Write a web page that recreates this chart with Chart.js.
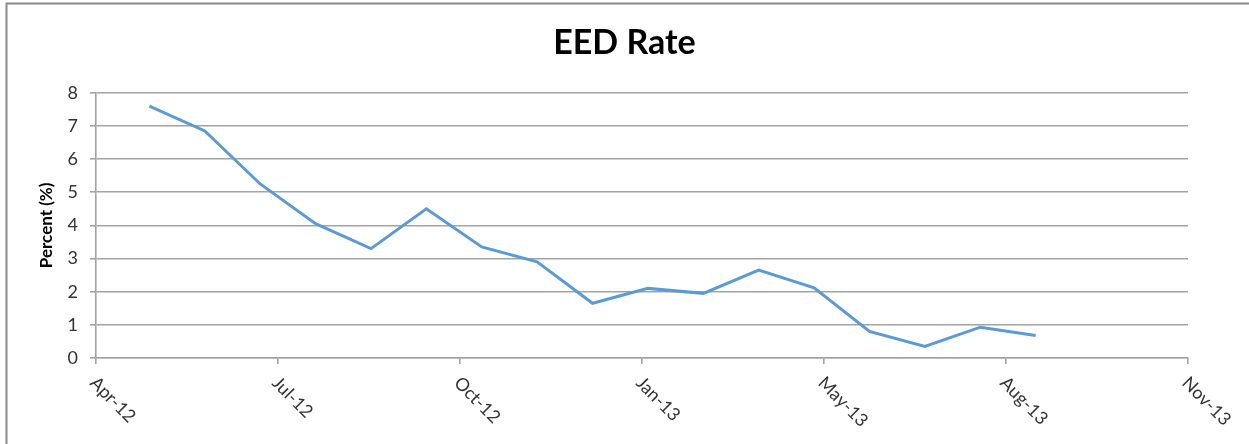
<!DOCTYPE html>
<html>
<head>
<meta charset="utf-8">
<title>EED Rate</title>
<script src="https://cdn.jsdelivr.net/npm/chart.js@4/dist/chart.umd.min.js"></script>
<style>
  html, body { margin: 0; padding: 0; background: #fff; }
  #wrap { position: relative; width: 1249px; height: 444px; }
</style>
</head>
<body>
<div id="wrap"><canvas id="grafico"></canvas></div>
<script>
// fechas de cada punto (cada 4 semanas) y valores
const AXIS_START = '2012-04-29';
const DATES = [
    '2012-05-26', '2012-06-23', '2012-07-21', '2012-08-18', '2012-09-15',
    '2012-10-13', '2012-11-10', '2012-12-08', '2013-01-05', '2013-02-02',
    '2013-03-02', '2013-03-30', '2013-04-27', '2013-05-25', '2013-06-22',
    '2013-07-20', '2013-08-17'
];
const EED_RATE = [7.6, 6.85, 5.25, 4.05, 3.3, 4.5, 3.35, 2.9, 1.65, 2.1, 1.95, 2.65, 2.12, 0.8, 0.35, 0.93, 0.68];
const X_TICK_LABELS = ['Apr-12', 'Jul-12', 'Oct-12', 'Jan-13', 'May-13', 'Aug-13', 'Nov-13'];
const X_STEP = 92;   // dias entre etiquetas
const Y_TICKS = [0, 1, 2, 3, 4, 5, 6, 7, 8];

const FONT = 'Lato, "Open Sans", sans-serif';
const GRID = '#a3a3a3';

function dayOffset(s) {
    const p = s.split('-').map(Number);
    const q = AXIS_START.split('-').map(Number);
    return (Date.UTC(p[0], p[1] - 1, p[2]) - Date.UTC(q[0], q[1] - 1, q[2])) / 86400000;
}

const puntos = DATES.map((d, i) => ({ x: dayOffset(d), y: EED_RATE[i] }));

// marco gris del grafico (solo se ven los lados izquierdo y superior)
const marco = {
    id: 'marco',
    beforeDraw(chart) {
        const c = chart.ctx;
        c.save();
        c.fillStyle = '#fff';
        c.fillRect(0, 0, chart.width, chart.height);
        c.strokeStyle = '#8a8a8a';
        c.lineWidth = 2;
        c.beginPath();
        c.moveTo(6.5, chart.height);
        c.lineTo(6.5, 3.5);
        c.lineTo(chart.width, 3.5);
        c.stroke();
        c.restore();
    }
};

// etiquetas del eje x giradas 45 grados hacia abajo-derecha
const etiquetasX = {
    id: 'etiquetasX',
    afterDraw(chart) {
        const sx = chart.scales.x;
        const c = chart.ctx;
        c.save();
        c.font = '18px ' + FONT;
        c.fillStyle = '#333';
        c.textAlign = 'left';
        c.textBaseline = 'middle';
        sx.ticks.forEach((t, i) => {
            const px = sx.getPixelForValue(t.value);
            c.save();
            c.translate(px - 3, sx.top + 22);
            c.rotate(Math.PI / 4);
            c.fillText(X_TICK_LABELS[i] || '', 0, 0);
            c.restore();
        });
        c.restore();
    }
};

new Chart(document.getElementById('grafico').getContext('2d'), {
    type: 'line',
    data: {
        datasets: [{
            label: 'EED Rate',
            data: puntos,
            borderColor: '#5b9bd5',
            borderWidth: 3,
            pointRadius: 0,
            tension: 0,
            fill: false
        }]
    },
    options: {
        responsive: true,
        maintainAspectRatio: false,
        animation: false,
        layout: {
            padding: 0
        },
        plugins: {
            legend: { display: false },
            tooltip: { enabled: false },
            title: {
                display: true,
                text: 'EED Rate',
                color: '#000',
                font: { family: FONT, size: 34, weight: 'bold' },
                padding: { top: 23, bottom: 29 }
            }
        },
        scales: {
            x: {
                type: 'linear',
                min: 0,
                max: X_STEP * (X_TICK_LABELS.length - 1),
                afterFit(s) { s.height = 86; },
                ticks: {
                    stepSize: X_STEP,
                    display: false,
                    callback: (v, i) => X_TICK_LABELS[i]
                },
                grid: {
                    drawOnChartArea: false,
                    drawTicks: true,
                    tickLength: 6,
                    color: GRID,
                    lineWidth: 1.6
                },
                border: { display: true, color: GRID, width: 1.6 }
            },
            y: {
                min: Y_TICKS[0],
                max: Y_TICKS[Y_TICKS.length - 1],
                afterFit(s) { s.width = 96; },
                ticks: {
                    stepSize: 1,
                    padding: 12,
                    color: '#333',
                    font: { family: FONT, size: 18 }
                },
                grid: {
                    color: GRID,
                    lineWidth: 1.6,
                    tickLength: 6
                },
                border: { display: true, color: GRID, width: 1.6 },
                title: {
                    display: true,
                    text: 'Percent (%)',
                    color: '#000',
                    font: { family: FONT, size: 17, weight: 'bold' },
                    padding: { top: 36, bottom: 0 }
                }
            },
            // eje vacio a la derecha: deja el margen sin descentrar el titulo
            margen: {
                position: 'right',
                afterFit(s) { s.width = 61; },
                ticks: { display: false },
                grid: { display: false },
                border: { display: false }
            }
        }
    },
    plugins: [marco, etiquetasX]
});
</script>
</body>
</html>
